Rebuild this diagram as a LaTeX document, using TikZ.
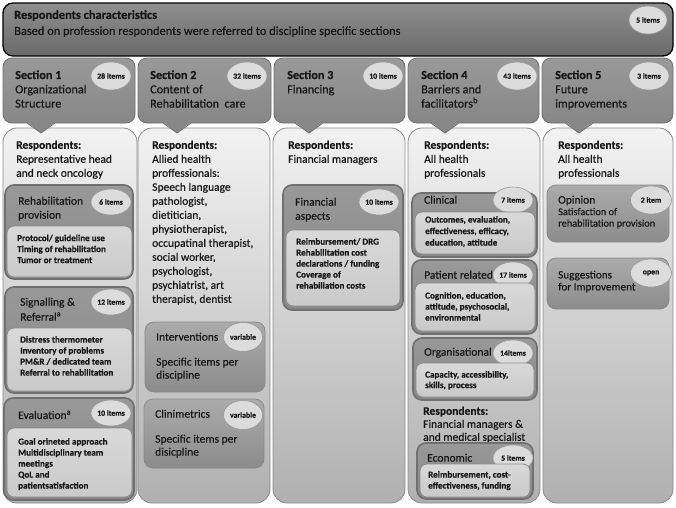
\documentclass[tikz,border=0pt]{standalone}
\usepackage{fontspec}
\setmainfont{Carlito}[FakeBold=0.4]
\usetikzlibrary{shapes.geometric}
\definecolor{bannerfill}{HTML}{7C7C7C}
\definecolor{hdrfill}{HTML}{8E8E8E}
\definecolor{hdrline}{HTML}{6E6E6E}
\definecolor{colline}{HTML}{8A8A8A}
\definecolor{grpline}{HTML}{707070}
\definecolor{cntfill}{HTML}{DCDCDC}
\definecolor{inkgray}{HTML}{161616}
\begin{document}
\begin{tikzpicture}[x=1pt,y=-1pt,
    box/.style={anchor=north west,inner sep=0pt,outer sep=0pt},
    banner/.style={box,draw=black,line width=1.3pt,top color=bannerfill!85!white,bottom color=bannerfill!85!black,rounded corners=10pt},
    hdr/.style={box,draw=hdrline,line width=.8pt,top color=hdrfill!90!white,bottom color=hdrfill!95!black,rounded corners=9pt},
    column/.style={box,draw=colline,line width=.8pt,top color=black!5,bottom color=black!31,rounded corners=14pt},
    group/.style={box,draw=grpline,line width=1.6pt,top color=black!40,bottom color=black!47,rounded corners=9pt},
    inbox/.style={box,draw=colline,line width=.8pt,top color=black!15,bottom color=black!21,rounded corners=7pt},
    itembox/.style={box,draw=colline,line width=.8pt,top color=black!33,bottom color=black!45,rounded corners=9pt},
    cnt/.style={ellipse,draw=black!40,line width=.6pt,fill=cntfill,inner sep=0pt,minimum width=40pt,minimum height=28pt,font=\fontsize{7.8}{8}\selectfont\bfseries,text=inkgray},
    txt/.style={anchor=north west,inner sep=0pt,align=left,text=inkgray,font=\fontsize{11.5}{14}\selectfont},
    hdrtxt/.style={txt,font=\fontsize{12.2}{14.3}\selectfont},
    small/.style={txt,font=\fontsize{9.1}{11}\selectfont\bfseries}]
\useasboundingbox (0,0) rectangle (676,507);
% banner
\node[banner,minimum width=670pt,minimum height=53pt] (banner) at (3,3) {};
\node[txt,font=\fontsize{12.4}{16}\selectfont] (banner-txt) at (14,10) {\textbf{Respondents characteristics}\\Based on profession respondents were referred to discipline specific sections};
\node[cnt,minimum width=38pt,minimum height=28pt] (banner-cnt) at (648,20) {5 items};
% columns
\node[column,minimum width=134pt,minimum height=375pt] (col1) at (3,128) {};
\node[column,minimum width=132pt,minimum height=375pt] (col2) at (138,128) {};
\node[column,minimum width=132pt,minimum height=375pt] (col3) at (273,128) {};
\node[column,minimum width=132pt,minimum height=375pt] (col4) at (408,128) {};
\node[column,minimum width=130pt,minimum height=375pt] (col5) at (543,128) {};
% section headers
\foreach \x/\w/\tip [count=\i] in {3/132/41, 138/133/177, 274/131/309, 408/131/445, 542/131/579}{
  \node[hdr,minimum width=\w pt,minimum height=65pt] (sec\i) at (\x,58) {};
  \fill[hdrfill!95!black] (\tip-14,122) -- (\tip,133) -- (\tip+14,122) -- cycle;
  \draw[hdrline,line width=.8pt] (\tip-14,123) -- (\tip,133) -- (\tip+14,123);
}
\node[hdrtxt] (sec1-txt) at (15,70.2) {\textbf{Section 1}\\Organizational\\Structure};
\node[hdrtxt] (sec2-txt) at (150,70.2) {\textbf{Section 2}\\Content of\\Rehabilitation\ \ care};
\node[hdrtxt] (sec3-txt) at (287,70.2) {\textbf{Section 3}\\Financing};
\node[hdrtxt] (sec4-txt) at (421,70.2) {\textbf{Section 4}\\Barriers and\\facilitators\textsuperscript{b}};
\node[hdrtxt] (sec5-txt) at (555,70.2) {\textbf{Section 5}\\Future\\improvements};
\node[cnt] (sec1-cnt) at (111,76) {28 items};
\node[cnt] (sec2-cnt) at (247,76) {32 items};
\node[cnt] (sec3-cnt) at (383,76) {10 items};
\node[cnt] (sec4-cnt) at (517,76) {43 items};
\node[cnt] (sec5-cnt) at (649,76) {3 items};
% column 1
\node[txt] (resp1) at (16,140.5) {\textbf{Respondents:}\\Representative head\\and neck oncology};
\node[group,minimum width=128pt,minimum height=94pt] (provision) at (5,185) {};
\node[txt] (provision-txt) at (18,196.5) {Rehabilitation\\provision};
\node[cnt,minimum height=26pt] (provision-cnt) at (111,202) {6 items};
\node[inbox,minimum width=125pt,minimum height=51pt] (provision-in) at (7,226) {};
\node[small] (provision-list) at (17,234.5) {Protocol/ guideline use\\Timing of rehabilitation\\Tumor or treatment};
\node[group,minimum width=128pt,minimum height=106pt] (referral) at (5,287) {};
\node[txt,font=\fontsize{11.5}{15}\selectfont] (referral-txt) at (20,297.5) {Signalling \&\\Referral\textsuperscript{a}};
\node[cnt,minimum height=26pt] (referral-cnt) at (111,302) {12 items};
\node[inbox,minimum width=125pt,minimum height=63pt] (referral-in) at (7,328) {};
\node[small] (referral-list) at (20,336) {Distress thermometer\\Inventory of problems\\PM\&R / dedicated team\\Referral to rehabilitation};
\node[group,minimum width=130pt,minimum height=102pt] (evaluation) at (4,398) {};
\node[txt] (evaluation-txt) at (18,410.5) {Evaluation\textsuperscript{a}};
\node[cnt,minimum height=26pt] (evaluation-cnt) at (111,413) {10 items};
\node[inbox,minimum width=125pt,minimum height=69pt] (evaluation-in) at (7,428) {};
\node[small] (evaluation-list) at (18,438) {Goal orineted approach\\Multidisciplinary team\\meetings\\QoL and\\patientsatisfaction};
% column 2
\node[txt] (resp2) at (152,140.5) {\textbf{Respondents:}\\Allied health\\proffessionals:\\Speech language\\pathologist,\\dietitician,\\physiotherapist,\\occupatinal therapist,\\social worker,\\psychologist,\\psychiatrist, art\\therapist, dentist};
\node[itembox,minimum width=120pt,minimum height=70pt] (interv) at (145,322) {};
\node[txt] (interv-txt) at (156,332.5) {Interventions};
\node[cnt,minimum width=39pt,minimum height=29pt] (interv-cnt) at (243,337) {variable};
\node[txt,font=\fontsize{11.5}{13}\selectfont] (interv-list) at (156,357.5) {Specific items per\\discipline};
\node[itembox,minimum width=120pt,minimum height=69pt] (clinim) at (144,399) {};
\node[txt] (clinim-txt) at (155,409.5) {Clinimetrics};
\node[cnt,minimum width=39pt,minimum height=29pt] (clinim-cnt) at (243,415) {variable};
\node[txt,font=\fontsize{11.5}{13}\selectfont] (clinim-list) at (155,434.5) {Specific items per\\disicpline};
% column 3
\node[txt] (resp3) at (288,140.5) {\textbf{Respondents:}\\Financial managers};
\node[group,minimum width=120pt,minimum height=125pt] (finance) at (283,185) {};
\node[txt] (finance-txt) at (295,197.5) {Financial\\aspects};
\node[cnt,minimum height=26pt] (finance-cnt) at (379,202) {10 items};
\node[inbox,minimum width=114pt,minimum height=76pt] (finance-in) at (286,230) {};
\node[small] (finance-list) at (296,238) {Reimbursement/ DRG\\Rehabilitation cost\\declarations / funding\\Coverage of\\rehabiliation costs};
% column 4
\node[txt] (resp4) at (424,140.5) {\textbf{Respondents:}\\All health\\professionals};
\node[group,minimum width=125pt,minimum height=64pt] (clinical) at (412,193) {};
\node[txt] (clinical-txt) at (424,195.5) {Clinical};
\node[cnt,minimum height=26pt] (clinical-cnt) at (513,200) {7 items};
\node[inbox,minimum width=120pt,minimum height=42pt] (clinical-in) at (415,212) {};
\node[small,font=\fontsize{9.1}{11.5}\selectfont\bfseries] (clinical-list) at (425,216) {Outcomes, evaluation,\\effectiveness, efficacy,\\education, attitude};
\node[group,minimum width=125pt,minimum height=74pt] (patient) at (412,260) {};
\node[txt] (patient-txt) at (424,270.5) {Patient related};
\node[cnt,minimum height=26pt] (patient-cnt) at (513,275) {17 items};
\node[inbox,minimum width=120pt,minimum height=48pt] (patient-in) at (415,283) {};
\node[small] (patient-list) at (425,292) {Cognition, education,\\attitude, psychosocial,\\environmental};
\node[group,minimum width=124pt,minimum height=62pt] (organis) at (413,338) {};
\node[txt] (organis-txt) at (424,347.5) {Organisational};
\node[cnt,minimum height=26pt] (organis-cnt) at (513,353) {14items};
\node[inbox,minimum width=118pt,minimum height=34pt] (organis-in) at (416,363) {};
\node[small,font=\fontsize{9.1}{10.5}\selectfont\bfseries] (organis-list) at (425,371) {Capacity, accessibility,\\skills, process};
\node[txt,font=\fontsize{11.5}{13}\selectfont] (resp4b) at (423,406.5) {\textbf{Respondents:}\\Financial managers \&\\and medical specialist};
\node[group,minimum width=116pt,minimum height=56pt] (economic) at (417,443) {};
\node[txt] (economic-txt) at (427,453.5) {Economic};
\node[cnt,minimum height=26pt] (economic-cnt) at (513,458) {5 items};
\node[inbox,minimum width=110pt,minimum height=33pt] (economic-in) at (420,464) {};
\node[small] (economic-list) at (428,471) {Reimbursement, cost-\\effectiveness, funding};
% column 5
\node[txt] (resp5) at (558,140.5) {\textbf{Respondents:}\\All health\\professionals};
\node[itembox,minimum width=122pt,minimum height=57pt] (opinion) at (547,185) {};
\node[txt,font=\fontsize{11.5}{11.5}\selectfont] (opinion-txt) at (558,195.5) {Opinion\\{\fontsize{10.3}{11.5}\selectfont Satisfaction of}\\{\fontsize{10.3}{11.5}\selectfont rehabilitation provision}};
\node[cnt,minimum width=41pt,minimum height=28pt] (opinion-cnt) at (651,200) {2 item};
\node[itembox,minimum width=122pt,minimum height=51pt] (suggest) at (547,258) {};
\node[txt,font=\fontsize{11.2}{12}\selectfont] (suggest-txt) at (558,270.5) {Suggestions\\for Improvement};
\node[cnt,minimum width=41pt,minimum height=28pt] (suggest-cnt) at (651,273) {open};
\end{tikzpicture}
\end{document}
